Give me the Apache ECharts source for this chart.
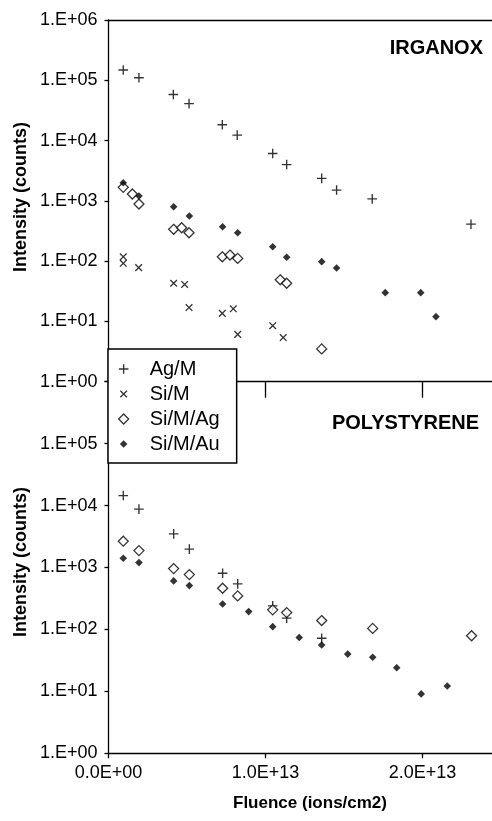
<!DOCTYPE html>
<html>
<head>
<meta charset="utf-8">
<script src="https://cdn.jsdelivr.net/npm/echarts@6/dist/echarts.min.js"></script>
<style>
html,body{margin:0;padding:0;background:#fff;}
#c{width:492px;height:821px;}
</style>
</head>
<body>
<div id="c"></div>
<script>
// ---- data (fluence in ions/cm2, intensity in counts) ----
const seriesNames = ['Ag/M', 'Si/M', 'Si/M/Ag', 'Si/M/Au'];
const panelTitles = ['IRGANOX', 'POLYSTYRENE'];
const xTickValues = [0, 1e13, 2e13];
const xTitle = 'Fluence (ions/cm2)';
const yTitle = 'Intensity (counts)';

// IRGANOX
const irgAgM_x = [0.094e13,0.194e13,0.413e13,0.513e13,0.725e13,0.82e13,1.046e13,1.135e13,1.358e13,1.453e13,1.68e13,2.309e13];
const irgAgM_y = [148000,110000,58000,41000,18300,12300,6100,4000,2360,1510,1080,410];
const irgSiM_x = [0.094e13,0.094e13,0.192e13,0.415e13,0.485e13,0.513e13,0.725e13,0.795e13,0.823e13,1.046e13,1.113e13];
const irgSiM_y = [118,92,78,43,41,17,13.6,16.2,6.1,8.5,5.4];
const irgSiMAg_x = [0.094e13,0.152e13,0.194e13,0.415e13,0.466e13,0.513e13,0.725e13,0.774e13,0.823e13,1.094e13,1.135e13,1.358e13];
const irgSiMAg_y = [1675,1297,885,337,358,296,118,126,111,49,43,3.5];
const irgSiMAu_x = [0.094e13,0.194e13,0.415e13,0.515e13,0.727e13,0.823e13,1.046e13,1.135e13,1.358e13,1.453e13,1.763e13,1.989e13,2.086e13];
const irgSiMAu_y = [1995,1202,798,560,372,296,173,116,98,77,30,30,12];

// POLYSTYRENE
const psAgM_x = [0.094e13,0.194e13,0.415e13,0.515e13,0.727e13,0.823e13,1.046e13,1.135e13,1.358e13];
const psAgM_y = [14500,8750,3490,1977,809,543,240,152,72];
const psSiMAg_x = [0.094e13,0.194e13,0.415e13,0.515e13,0.727e13,0.823e13,1.046e13,1.135e13,1.358e13,1.683e13,2.313e13];
const psSiMAg_y = [2660,1875,960,768,463,348,207,187,139,104,79];
const psSiMAu_x = [0.094e13,0.194e13,0.415e13,0.515e13,0.727e13,0.893e13,1.046e13,1.215e13,1.358e13,1.524e13,1.683e13,1.836e13,1.992e13,2.158e13];
const psSiMAu_y = [1413,1200,608,510,258,194,111,74,56,40,35.6,24,9.1,12.2];

// ---- helpers ----
function pairs(xs, ys){ return xs.map((x,i)=>[x, ys[i]]); }
const FONT = "'Liberation Sans', Arial, sans-serif";
const PLUS = 'path://M0,0M30,30M13.3,3L16.7,3L16.7,13.3L27,13.3L27,16.7L16.7,16.7L16.7,27L13.3,27L13.3,16.7L3,16.7L3,13.3L13.3,13.3Z';
const CROSS = 'path://M0,0M30,30M5.53,7.87L7.87,5.53L24.47,22.13L22.13,24.47ZM5.53,22.13L22.13,5.53L24.47,7.87L7.87,24.47Z';
const DIAM_O = 'path://M0,0M30,30M15,2.5L27.5,15L15,27.5L2.5,15Z';
const DIAM_F = 'path://M0,0M30,30M15,5.5L24.5,15L15,24.5L5.5,15Z';
const styles = {
  'Ag/M':   {symbol: PLUS,  itemStyle: {color:'#000'}},
  'Si/M':   {symbol: CROSS, itemStyle: {color:'#000'}},
  'Si/M/Ag':{symbol: DIAM_O,itemStyle: {color:'#fff', borderColor:'#000', borderWidth:1.3}},
  'Si/M/Au':{symbol: DIAM_F,itemStyle: {color:'#000'}}
};
function sc(name, idx, data){
  return {
    type:'scatter', name: name, xAxisIndex: idx === 0 ? 0 : 2, yAxisIndex: idx,
    data: data, symbol: styles[name].symbol, symbolSize: 12,
    itemStyle: styles[name].itemStyle, emphasis:{disabled:true}, silent:true, animation:false
  };
}
function yLab(v){
  const e = Math.round(Math.log10(v));
  return '1.E+' + String(e).padStart(2,'0');
}
function xLab(v){
  if (v === 0) return '0.0E+00';
  const e = Math.floor(Math.log10(v));
  return (v/Math.pow(10,e)).toFixed(1) + 'E+' + String(e).padStart(2,'0');
}
const XMAX = 2.443e13;
const axisLine = {show:true, lineStyle:{color:'#000', width:1.3}};
const labelStyle = {color:'#000', fontFamily: FONT, fontSize:18};

const chart = echarts.init(document.getElementById('c'), null, {renderer:'canvas'});
chart.setOption({
  animation:false,
  backgroundColor:'#fff',
  title: [
    {text: panelTitles[0], right: 9, top: 38, padding:0, textStyle:{fontFamily:FONT, fontSize:20, fontWeight:'bold', color:'#000'}},
    {text: panelTitles[1], right: 13, top: 413, padding:0, textStyle:{fontFamily:FONT, fontSize:20, fontWeight:'bold', color:'#000'}}
  ],
  grid: [
    {left:108.5, right:0, top:20, height:361.7},
    {left:108.5, right:0, top:381.7, height:371.6}
  ],
  xAxis: [
    {type:'value', gridIndex:0, position:'bottom', min:0, max:XMAX,
     axisLine: axisLine, axisTick:{show:true, length:16, lineStyle:{color:'#000', width:1.3}, customValues:[1e13,2e13]},
     axisLabel:{show:false}, splitLine:{show:false}},
    {type:'value', gridIndex:0, position:'top', min:0, max:XMAX,
     axisLine: axisLine, axisTick:{show:false}, axisLabel:{show:false}, splitLine:{show:false}},
    {type:'value', gridIndex:1, position:'bottom', min:0, max:XMAX,
     axisLine: axisLine, axisTick:{show:true, length:5, lineStyle:{color:'#000', width:1.3}, customValues: xTickValues},
     axisLabel: Object.assign({margin:11, formatter:xLab, customValues: xTickValues}, labelStyle),
     splitLine:{show:false}}
  ],
  yAxis: [
    {type:'log', gridIndex:0, min:1, max:1e6, logBase:10, splitNumber:6,
     axisLine: axisLine, axisTick:{show:true, length:4, lineStyle:{color:'#000', width:1.3}},
     axisLabel: Object.assign({margin:11, formatter:yLab}, labelStyle),
     splitLine:{show:false}, minorTick:{show:false}},
    {type:'log', gridIndex:1, min:1, max:1e6, logBase:10, splitNumber:6,
     axisLine: axisLine, axisTick:{show:true, length:4, lineStyle:{color:'#000', width:1.3}},
     axisLabel: Object.assign({margin:11, formatter:function(v){ return v >= 1e6 ? '' : yLab(v); }}, labelStyle),
     splitLine:{show:false}, minorTick:{show:false}}
  ],
  legend: {
    orient:'vertical', left:108, top:349, z:10,
    padding:[10,17,9,9], itemGap:5, itemWidth:12, itemHeight:12,
    backgroundColor:'#fff', borderColor:'#000', borderWidth:1.5, borderRadius:0,
    selectedMode:false,
    textStyle:{fontFamily:FONT, fontSize:20, color:'#000', padding:[0,0,0,15]},
    data: seriesNames.map(n => ({name:n, icon: styles[n].symbol, itemStyle: styles[n].itemStyle}))
  },
  graphic: [
    {type:'text', x:21, y:197, rotation:Math.PI/2, style:{text:yTitle, fontFamily:FONT, fontSize:18, fontWeight:'bold', fill:'#000', align:'center', verticalAlign:'middle'}},
    {type:'text', x:21, y:562, rotation:Math.PI/2, style:{text:yTitle, fontFamily:FONT, fontSize:18, fontWeight:'bold', fill:'#000', align:'center', verticalAlign:'middle'}},
    {type:'text', x:310, y:803, style:{text:xTitle, fontFamily:FONT, fontSize:17, fontWeight:'bold', fill:'#000', align:'center', verticalAlign:'middle'}}
  ],
  series: [
    sc('Ag/M', 0, pairs(irgAgM_x, irgAgM_y)),
    sc('Si/M', 0, pairs(irgSiM_x, irgSiM_y)),
    sc('Si/M/Ag', 0, pairs(irgSiMAg_x, irgSiMAg_y)),
    sc('Si/M/Au', 0, pairs(irgSiMAu_x, irgSiMAu_y)),
    sc('Ag/M', 1, pairs(psAgM_x, psAgM_y)),
    sc('Si/M/Ag', 1, pairs(psSiMAg_x, psSiMAg_y)),
    sc('Si/M/Au', 1, pairs(psSiMAu_x, psSiMAu_y))
  ]
});
</script>
</body>
</html>
